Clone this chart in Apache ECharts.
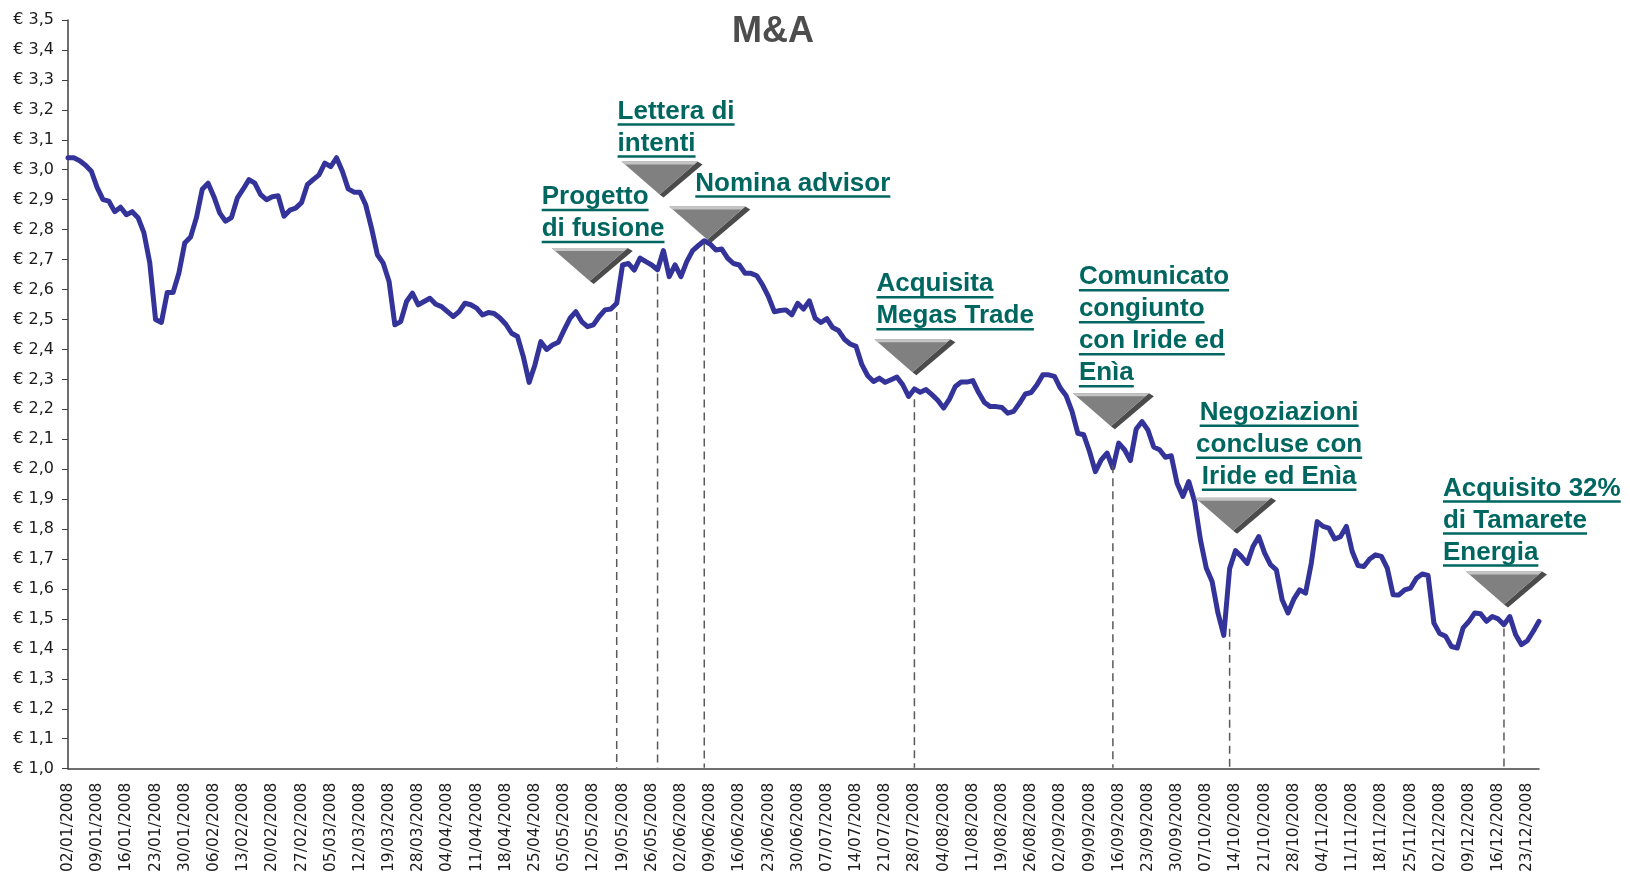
<!DOCTYPE html>
<html>
<head>
<meta charset="utf-8">
<title>M&amp;A</title>
<script src="https://cdn.jsdelivr.net/npm/echarts@6/dist/echarts.min.js"></script>
<style>
  html, body { margin: 0; padding: 0; background: #ffffff; }
  #ma_line_chart { width: 1630px; height: 875px; }
</style>
</head>
<body>
<div id="ma_line_chart"></div>
<script>
// sedute di borsa 2008: weekend esclusi, più questi giorni di chiusura
const holidays = ['2008-01-01', '2008-03-21', '2008-03-24', '2008-05-01', '2008-08-15', '2008-12-24', '2008-12-25', '2008-12-26'];
const firstDay = '2008-01-02';
const lastDay = '2008-12-30';

// prezzo (€), una chiusura per seduta
const prices = [
  3.04, 3.04, 3.03, 3.015, 2.995, 2.94, 2.90, 2.895, 2.86, 2.875,
  2.85, 2.86, 2.84, 2.79, 2.69, 2.50, 2.49, 2.59, 2.59, 2.655,
  2.755, 2.775, 2.84, 2.935, 2.955, 2.91, 2.855, 2.828, 2.84, 2.905,
  2.935, 2.967, 2.955, 2.917, 2.90, 2.91, 2.913, 2.845, 2.865, 2.872,
  2.89, 2.95, 2.967, 2.983, 3.022, 3.01, 3.04, 2.995, 2.936, 2.925,
  2.925, 2.883, 2.805, 2.716, 2.688, 2.627, 2.482, 2.493, 2.56, 2.588,
  2.549, 2.56, 2.571, 2.551, 2.543, 2.526, 2.51, 2.526, 2.554, 2.549,
  2.538, 2.515, 2.523, 2.52, 2.505, 2.484, 2.454, 2.443, 2.376, 2.29,
  2.349, 2.426, 2.40, 2.415, 2.424, 2.465, 2.504, 2.526, 2.493, 2.476,
  2.482, 2.51, 2.532, 2.535, 2.554, 2.682, 2.687, 2.665, 2.705, 2.693,
  2.682, 2.666, 2.73, 2.643, 2.682, 2.643, 2.693, 2.73, 2.747, 2.763,
  2.752, 2.732, 2.735, 2.705, 2.687, 2.682, 2.654, 2.654, 2.646, 2.615,
  2.576, 2.526, 2.53, 2.532, 2.515, 2.554, 2.535, 2.562, 2.504, 2.49,
  2.503, 2.473, 2.463, 2.434, 2.418, 2.41, 2.349, 2.312, 2.293, 2.304,
  2.29, 2.299, 2.308, 2.282, 2.243, 2.268, 2.257, 2.266, 2.249, 2.23,
  2.204, 2.234, 2.276, 2.291, 2.291, 2.296, 2.256, 2.223, 2.209, 2.209,
  2.206, 2.187, 2.193, 2.22, 2.251, 2.256, 2.282, 2.315, 2.315, 2.31,
  2.271, 2.245, 2.193, 2.12, 2.115, 2.059, 1.992, 2.031, 2.054, 2.004,
  2.087, 2.065, 2.029, 2.134, 2.159, 2.131, 2.074, 2.065, 2.04, 2.045,
  1.953, 1.909, 1.959, 1.892, 1.764, 1.67, 1.625, 1.52, 1.445, 1.668,
  1.728, 1.709, 1.685, 1.742, 1.775, 1.72, 1.681, 1.664, 1.564, 1.52,
  1.566, 1.597, 1.586, 1.687, 1.825, 1.809, 1.803, 1.767, 1.775, 1.809,
  1.725, 1.678, 1.675, 1.70, 1.714, 1.709, 1.67, 1.581, 1.58, 1.597,
  1.603, 1.636, 1.65, 1.645, 1.486, 1.451, 1.442, 1.408, 1.403, 1.47,
  1.492, 1.52, 1.517, 1.492, 1.508, 1.50, 1.481, 1.508, 1.447, 1.414,
  1.427, 1.458, 1.492
];

// eventi: seduta, quota dove parte la linea tratteggiata, testo
const eventIndex = [94, 101, 109, 145, 179, 199, 246];
const eventValue = [2.532, 2.66, 2.76, 2.24, 2.02, 1.474, 1.475];
const eventText = [
  ['Progetto', 'di fusione'],
  ['Lettera di', 'intenti'],
  ['Nomina advisor'],
  ['Acquisita', 'Megas Trade'],
  ['Comunicato', 'congiunto', 'con Iride ed', 'Enìa'],
  ['Negoziazioni', 'concluse con', 'Iride ed Enìa'],
  ['Acquisito 32%', 'di Tamarete', 'Energia']
];

// posizione dei triangoli e delle scritte rispetto al punto dell'evento (px)
const annLayout = [
  { dx: -27, dy: -62, tx: -48, align: 'left', gap: 6 },
  { dx: 2, dy: -110, tx: -42, align: 'left', gap: 5 },
  { dx: 3, dy: -35, tx: -12, align: 'left', gap: 10 },
  { dx: -2, dy: -58, tx: -36, align: 'left', gap: 10 },
  { dx: -2, dy: -70, tx: -32, align: 'left', gap: 7 },
  { dx: 3.5, dy: -129, tx: 46, align: 'center', gap: 8 },
  { dx: 0, dy: -55, tx: -61, align: 'left', gap: 6 }
];

const yMin = 1.0;
const yMax = 3.5;
const teal = '#006660';
const annFont = 'bold 26px "Liberation Sans", Arial, sans-serif';
const lineGap = 32;

function tradingDays(start, end) {
  const result = [];
  const d = new Date(start + 'T00:00:00Z');
  const stop = new Date(end + 'T00:00:00Z');
  while (d <= stop) {
    const iso = d.toISOString().slice(0, 10);
    const wd = d.getUTCDay();
    if (wd !== 0 && wd !== 6 && !holidays.includes(iso)) {
      result.push([iso.slice(8, 10), iso.slice(5, 7), iso.slice(0, 4)].join('/'));
    }
    d.setUTCDate(d.getUTCDate() + 1);
  }
  return result;
}

const dates = tradingDays(firstDay, lastDay);

const measureCtx = document.createElement('canvas').getContext('2d');
measureCtx.font = annFont;

function renderEvent(params, api) {
  const k = params.dataIndex;
  const lay = annLayout[k];
  const top = api.coord([api.value(0), api.value(1)]);
  const base = api.coord([api.value(0), yMin]);
  const cx = top[0] + lay.dx;
  const T = top[1] + lay.dy;
  const half = 38;
  const h = 33;
  const children = [];

  // linea tratteggiata fino all'asse
  children.push({
    type: 'line',
    shape: { x1: top[0], y1: top[1] + 2, x2: base[0], y2: base[1] - 1 },
    style: { stroke: '#5a5a5a', lineWidth: 1.5, lineDash: [8, 5] }
  });

  // triangolo 3D: lato scuro, faccia, bordo chiaro
  children.push({
    type: 'polygon',
    shape: { points: [[cx + half, T], [cx + half + 5, T + 3], [cx + 4, T + h + 3], [cx, T + h]] },
    style: { fill: '#4b4b4b' }
  });
  children.push({
    type: 'polygon',
    shape: { points: [[cx - half, T], [cx + half, T], [cx, T + h]] },
    style: { fill: '#808080' }
  });
  children.push({
    type: 'polygon',
    shape: { points: [[cx - half, T], [cx + half, T], [cx + half - 3.5, T + 3], [cx - half + 3.5, T + 3]] },
    style: { fill: '#c4c4c4' }
  });

  const lines = eventText[k];
  lines.forEach((line, j) => {
    const ul = T - lay.gap - (lines.length - 1 - j) * lineGap;
    const w = measureCtx.measureText(line).width;
    const left = lay.align === 'center' ? cx + lay.tx - w / 2 : cx + lay.tx;
    children.push({
      type: 'text',
      style: { text: line, x: left, y: ul - 13, font: annFont, fill: teal, align: 'left', verticalAlign: 'middle' }
    });
    children.push({
      type: 'rect',
      shape: { x: left, y: ul - 1.25, width: w, height: 2.5 },
      style: { fill: teal }
    });
  });

  return { type: 'group', children: children };
}

const option = {
  animation: false,
  backgroundColor: '#ffffff',
  title: {
    text: 'M&A',
    left: 768,
    textAlign: 'center',
    top: 9,
    textStyle: { fontFamily: 'Liberation Sans', fontWeight: 'bold', fontSize: 36, color: '#4d4d4d' }
  },
  grid: { left: 68, right: 91, top: 20, bottom: 106, containLabel: false },
  xAxis: {
    type: 'category',
    data: dates,
    boundaryGap: false,
    axisLine: { show: true, lineStyle: { color: '#404040', width: 1.5 } },
    axisTick: { show: false },
    splitLine: { show: false },
    axisLabel: {
      interval: 4,
      rotate: 90,
      margin: 14,
      fontFamily: 'DejaVu Sans',
      fontSize: 15.5,
      color: '#1a1a1a'
    }
  },
  yAxis: {
    type: 'value',
    min: yMin,
    max: yMax,
    interval: 0.1,
    axisLine: { show: true, lineStyle: { color: '#404040', width: 1.5 } },
    axisTick: { show: true, length: 6, lineStyle: { color: '#404040' } },
    splitLine: { show: false },
    axisLabel: {
      margin: 14,
      fontFamily: 'DejaVu Sans',
      fontSize: 16,
      color: '#1a1a1a',
      formatter: (v) => '€ ' + v.toFixed(1).replace('.', ',')
    }
  },
  series: [
    {
      name: 'Prezzo',
      type: 'line',
      data: prices,
      symbol: 'none',
      z: 3,
      lineStyle: { color: '#333399', width: 5, join: 'round', cap: 'round' }
    },
    {
      name: 'Eventi',
      type: 'custom',
      z: 4,
      clip: false,
      silent: true,
      renderItem: renderEvent,
      data: eventIndex.map((idx, k) => [idx, eventValue[k]])
    }
  ]
};

const chartDom = document.getElementById('ma_line_chart');
const myChart = echarts.init(chartDom, null, { renderer: 'canvas' });
myChart.setOption(option);
</script>
</body>
</html>
